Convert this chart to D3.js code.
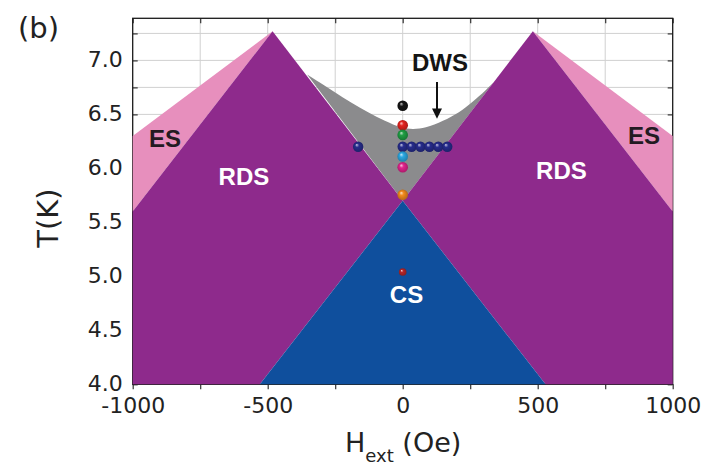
<!DOCTYPE html>
<html>
<head>
<meta charset="utf-8">
<script src="https://cdn.jsdelivr.net/npm/d3@7"></script>
<style>
  html, body { margin: 0; padding: 0; background: #fff; }
  svg { display: block; }
  .tick text { font-family: "DejaVu Sans", sans-serif; font-size: 22px; fill: #222; }
  .region { font-family: "Liberation Sans", Arial, sans-serif; font-weight: bold; font-size: 24px; text-anchor: middle; }
</style>
</head>
<body>
<svg id="chart" width="709" height="470"></svg>
<script>
// Phase boundaries of the H–T diagram (H in Oe, T in K)
const peakH = 482;           // RDS apex field (±)
const peakT = 7.27;          // RDS apex temperature
const edgeRdsT = 5.60;       // RDS boundary at |H| = 1000 Oe
const edgeEsT = 6.30;        // ES upper boundary at |H| = 1000 Oe
const vertexT = 5.70;        // where the CS apex meets the RDS/DWS boundaries
const csBaseH = 529;         // CS triangle half-width at T = 4.0 K
// Upper DWS boundary (U-shaped)
const dwsH = [-354, -310, -254, -191, -128, -66, -6, 38, 86, 149, 208, 260, 305, 338];
const dwsT = [6.87, 6.80, 6.71, 6.61, 6.52, 6.44, 6.38, 6.365, 6.38, 6.44, 6.52, 6.62, 6.72, 6.80];

// Measured points along H = 0
const columnT = [6.58, 6.40, 6.31, 6.11, 6.01, 5.755, 5.04];
const columnColor = ["#151515", "#e3231f", "#1f9e43", "#2ba8e2", "#e2238c", "#f28a1c", "#b5262a"];
// Measured points along T = 6.2 K
const rowH = [-165, 0, 33, 66, 99, 132, 165];
const rowT = 6.20;

// Axis ticks
const xTicks = [-1000, -750, -500, -250, 0, 250, 500, 750, 1000];
const xLabels = [-1000, -500, 0, 500, 1000];
const yTicks = [4.0, 4.25, 4.5, 4.75, 5.0, 5.25, 5.5, 5.75, 6.0, 6.25, 6.5, 6.75, 7.0, 7.25];
const yLabels = [4.0, 4.5, 5.0, 5.5, 6.0, 6.5, 7.0];

const svg = d3.select("#chart");
const x = d3.scaleLinear().domain([-1000, 1000]).range([132.7, 672.7]);
const y = d3.scaleLinear().domain([4.0, 7.39]).range([384.3, 18.3]);
const [x0, x1] = x.range();
const [yb, yt] = y.range();

// Grid
const grid = svg.append("g").attr("stroke", "#d0d0d0").attr("stroke-width", 1);
grid.selectAll("line.v").data(xTicks.slice(1, -1)).join("line")
  .attr("x1", d => x(d)).attr("x2", d => x(d)).attr("y1", yt).attr("y2", yb);
grid.selectAll("line.h").data(yTicks.slice(1)).join("line")
  .attr("x1", x0).attr("x2", x1).attr("y1", d => y(d)).attr("y2", d => y(d));

// Axes
const fmt = v => (xLabels.includes(v) ? d3.format("d")(v).replace("−", "-") : "");
const fmtY = v => (yLabels.includes(v) ? d3.format(".1f")(v) : "");

const gB = svg.append("g").attr("transform", `translate(0,${yb})`)
  .call(d3.axisBottom(x).tickValues(xTicks).tickFormat(fmt).tickSizeInner(5).tickSizeOuter(0).tickPadding(8));
const gT = svg.append("g").attr("transform", `translate(0,${yt})`)
  .call(d3.axisTop(x).tickValues(xTicks).tickFormat("").tickSizeInner(-5).tickSizeOuter(0));
const gL = svg.append("g").attr("transform", `translate(${x0},0)`)
  .call(d3.axisLeft(y).tickValues(yTicks).tickFormat(fmtY).tickSizeInner(-5).tickSizeOuter(0).tickPadding(10));
const gR = svg.append("g").attr("transform", `translate(${x1},0)`)
  .call(d3.axisRight(y).tickValues(yTicks).tickFormat("").tickSizeInner(-5).tickSizeOuter(0));
[gB, gT, gL, gR].forEach(g => {
  g.select(".domain").remove();
  g.selectAll(".tick line").attr("stroke", "#333").attr("stroke-width", 1.2);
});
gL.selectAll(".tick text").attr("dy", "0.28em");

// Frame
svg.append("rect").attr("x", x0).attr("y", yt).attr("width", x1 - x0).attr("height", yb - yt)
  .attr("fill", "none").attr("stroke", "#1a1a1a").attr("stroke-width", 1.3);

// Phase regions
const poly = pts => "M" + pts.map(([h, t]) => `${x(h)},${y(t)}`).join("L") + "Z";
const fills = { dws: "#8b8b8d", es: "#e78fbd", rds: "#8e2a8c", cs: "#0f4f9d" };

// DWS: between the inner RDS edges, below the U-shaped boundary
const dwsLine = d3.line().x((d, i) => x(dwsH[i])).y((d, i) => y(dwsT[i])).curve(d3.curveCatmullRom.alpha(0.5));
svg.append("path")
  .attr("d", dwsLine(dwsH) + `L${x(0)},${y(vertexT)}Z`)
  .attr("fill", fills.dws);

[-1, 1].forEach(s => {
  // ES wedge
  svg.append("path").attr("fill", fills.es)
    .attr("d", poly([[s * 1000, edgeRdsT], [s * 1000, edgeEsT], [s * peakH, peakT]]));
  // RDS
  svg.append("path").attr("fill", fills.rds)
    .attr("d", poly([[s * 1000, 4.0], [s * 1000, edgeRdsT], [s * peakH, peakT], [0, vertexT], [s * csBaseH, 4.0]]));
});
// CS
svg.append("path").attr("fill", fills.cs)
  .attr("d", poly([[-csBaseH, 4.0], [0, vertexT], [csBaseH, 4.0]]));

// Region labels
const labels = [
  { text: "ES", h: -880, t: 6.197, color: "#231a22" },
  { text: "RDS", h: -588, t: 5.845, color: "#ffffff" },
  { text: "DWS", h: 138, t: 6.904, color: "#141414" },
  { text: "ES", h: 894, t: 6.225, color: "#231a22" },
  { text: "RDS", h: 588, t: 5.90, color: "#ffffff" },
  { text: "CS", h: 14, t: 4.753, color: "#ffffff" }
];
svg.selectAll("text.region").data(labels).join("text")
  .attr("class", "region")
  .attr("x", d => x(d.h)).attr("y", d => y(d.t))
  .attr("fill", d => d.color)
  .text(d => d.text);

// Arrow pointing at the DWS boundary
const arrowH = 127;
svg.append("line")
  .attr("x1", x(arrowH)).attr("x2", x(arrowH))
  .attr("y1", y(6.80)).attr("y2", y(6.55))
  .attr("stroke", "#111").attr("stroke-width", 2);
svg.append("path")
  .attr("d", `M${x(arrowH) - 5},${y(6.555)}L${x(arrowH) + 5},${y(6.555)}L${x(arrowH)},${y(6.46)}Z`)
  .attr("fill", "#111");

// Sphere shading for the data points
const defs = svg.append("defs");
const allColors = [...new Set([...columnColor, "#262c8c"])];
allColors.forEach((c, i) => {
  const g = defs.append("radialGradient").attr("id", "ball" + i)
    .attr("cx", "50%").attr("cy", "50%").attr("r", "55%").attr("fx", "35%").attr("fy", "30%");
  g.append("stop").attr("offset", "0%").attr("stop-color", d3.interpolateRgb(c, "#ffffff")(0.75));
  g.append("stop").attr("offset", "35%").attr("stop-color", c);
  g.append("stop").attr("offset", "100%").attr("stop-color", d3.color(c).darker(0.9));
});
const ballFill = c => `url(#ball${allColors.indexOf(c)})`;

// Row at T = 6.2 K
svg.selectAll("circle.row").data(rowH).join("circle")
  .attr("cx", d => x(d)).attr("cy", y(rowT)).attr("r", 5.2)
  .attr("fill", ballFill("#262c8c"));
// Column at H = 0
svg.selectAll("circle.col").data(columnT).join("circle")
  .attr("cx", x(0)).attr("cy", d => y(d))
  .attr("r", (d, i) => (i === columnT.length - 1 ? 3.8 : 5.3))
  .attr("fill", (d, i) => ballFill(columnColor[i]));

// Axis titles and panel tag
svg.append("text")
  .attr("x", 18).attr("y", 38)
  .attr("font-family", "DejaVu Sans, sans-serif").attr("font-size", 29).attr("fill", "#222")
  .text("(b)");

svg.append("text")
  .attr("transform", "translate(58,218) rotate(-90)")
  .attr("text-anchor", "middle")
  .attr("font-family", "DejaVu Sans, sans-serif").attr("font-size", 29).attr("fill", "#222")
  .text("T(K)");

const xt = svg.append("text")
  .attr("x", 345).attr("y", 451.7)
  .attr("font-family", "DejaVu Sans, sans-serif").attr("font-size", 27).attr("fill", "#222");
xt.append("tspan").text("H");
xt.append("tspan").attr("dy", 10).attr("font-size", 18).text("ext");
xt.append("tspan").attr("dy", -10).text(" (Oe)");
</script>
</body>
</html>
